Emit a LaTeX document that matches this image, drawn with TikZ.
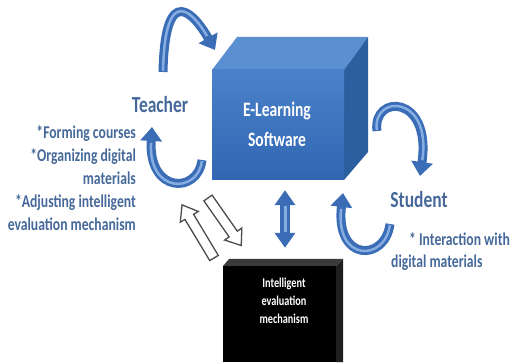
\documentclass[tikz,border=0pt]{standalone}
\usepackage{fontspec}
\setmainfont{Carlito}
\usetikzlibrary{arrows.meta}
\definecolor{lblue}{HTML}{46699A}
\definecolor{boxtop}{HTML}{5A8FD2}
\definecolor{boxside}{HTML}{2C5F9F}
\definecolor{boxhi}{HTML}{4A81CA}
\definecolor{boxlo}{HTML}{3167B2}
\definecolor{arrowblue}{HTML}{3A6DB5}
\definecolor{arrowlight}{HTML}{86AEE2}
\definecolor{blacktop}{HTML}{3A3A3A}
\definecolor{blackside}{HTML}{1E1E1E}
\begin{document}
\begin{tikzpicture}[x=1pt,y=1pt,
  lbl/.style={font=\bfseries\fontsize{23}{27}\selectfont, text=lblue, xscale=0.76, inner sep=0},
  desc/.style={font=\bfseries\fontsize{18}{22}\selectfont, text=lblue, xscale=0.76, inner sep=0},
  boxtext/.style={font=\bfseries\fontsize{20.5}{24}\selectfont, text=white, xscale=0.76, inner sep=0, anchor=base},
  iemtext/.style={font=\bfseries\fontsize{13.5}{16}\selectfont, text=white, xscale=0.76, inner sep=0, anchor=base},
  curv/.style={line width=9pt, draw=arrowblue, -{Triangle[width=21pt,length=14pt]}},
  curvhi/.style={line width=2.5pt, draw=arrowlight, shorten >=16pt, shorten <=1pt},
  dblarrow/.style={line width=10pt, draw=arrowblue, {Triangle[width=20pt,length=15pt]}-{Triangle[width=20pt,length=15pt]}},
  hollow/.style={draw=black!70, fill=white, line width=1.3pt, line join=miter}
]
\useasboundingbox (0,0) rectangle (512,362);

% E-Learning software box
\fill[boxtop] (212,292) -- (237,325) -- (368,325) -- (344,292) -- cycle;
\fill[boxside] (344,292) -- (368,325) -- (368,210) -- (344,182) -- cycle;
\node[top color=boxhi, bottom color=boxlo, minimum width=132pt, minimum height=110pt, inner sep=0] (elearn) at (278,237) {};
\node[boxtext] (el1) at (277,245) {E-Learning};
\node[boxtext] (el2) at (277,215) {Software};

% Intelligent evaluation mechanism box
\fill[blacktop] (223,96) -- (229,103) -- (343,103) -- (336,96) -- cycle;
\fill[blackside] (336,96) -- (343,103) -- (343,0) -- (336,0) -- cycle;
\node[fill=black, minimum width=113pt, minimum height=96pt, inner sep=0] (iem) at (279.5,48) {};
\node[iemtext] (iem1) at (284,74.5) {Intelligent};
\node[iemtext] (iem2) at (284,56.5) {evaluation};
\node[iemtext] (iem3) at (284,38.5) {mechanism};

% vertical double arrow
\draw[dblarrow, shorten <=10pt, shorten >=18pt] ([xshift=7pt]elearn.south) -- ([xshift=5.5pt]iem.north);
\draw[line width=3pt, draw=arrowlight] ([xshift=7pt,yshift=-26pt]elearn.south) -- ([xshift=5.5pt,yshift=34pt]iem.north);

% hollow arrows
\begin{scope}[shift={(214,104)}, rotate=121]
  \draw[hollow] (0,-5) -- (48,-5) -- (48,-10.5) -- (62,0) -- (48,10.5) -- (48,5) -- (0,5) -- cycle;
\end{scope}
\begin{scope}[shift={(208,164)}, rotate=-55]
  \draw[hollow] (0,-5) -- (44,-5) -- (44,-10.5) -- (58,0) -- (44,10.5) -- (44,5) -- (0,5) -- cycle;
\end{scope}

% curved arrows
\coordinate (a1s) at (163,290); \coordinate (a1e) at (215,312);
\draw[curv] (a1s) .. controls (165,383) and (195,347) .. (a1e);
\draw[curvhi] (a1s) .. controls (165,383) and (195,347) .. (a1e);
\coordinate (a2s) at (202,202); \coordinate (a2e) at (152,235);
\draw[curv] (a2s) .. controls (198,168) and (148,168) .. (a2e);
\draw[curvhi] (a2s) .. controls (198,168) and (148,168) .. (a2e);
\coordinate (a3s) at (377,231); \coordinate (a3e) at (420,186);
\draw[curv] (a3s) .. controls (372,268) and (432,268) .. (a3e);
\draw[curvhi] (a3s) .. controls (372,268) and (432,268) .. (a3e);
\coordinate (a4s) at (390,138); \coordinate (a4e) at (343,169);
\draw[curv] (a4s) .. controls (385,100) and (335,100) .. (a4e);
\draw[curvhi] (a4s) .. controls (385,100) and (335,100) .. (a4e);

% labels
\node[lbl, anchor=base] (teacher) at (160,249) {Teacher};
\node[desc, anchor=base east] (t1) at (136,223.5) {*Forming courses};
\node[desc, anchor=base east] (t2) at (136,200.5) {*Organizing digital};
\node[desc, anchor=base east] (t3) at (136,177.5) {materials};
\node[desc, anchor=base east] (t4) at (136,154.5) {*Adjusting intelligent};
\node[desc, anchor=base east] (t5) at (136,131.5) {evaluation mechanism};

\node[lbl, anchor=base] (student) at (419,154.5) {Student};
\node[desc, anchor=base west] (s1) at (409,116.5) {* Interaction with};
\node[desc, anchor=base west] (s2) at (391,94) {digital materials};
\end{tikzpicture}
\end{document}
